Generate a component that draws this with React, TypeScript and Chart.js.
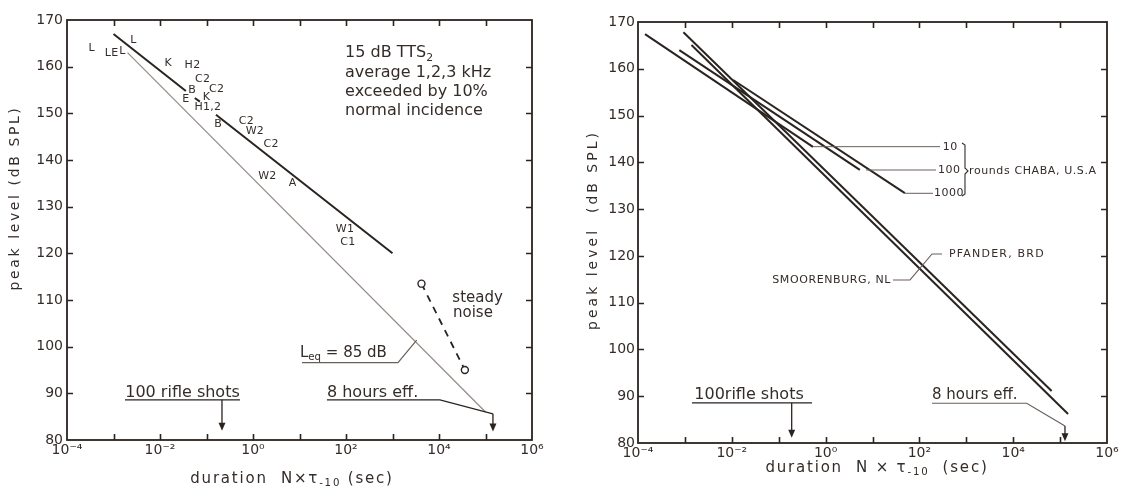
import { useEffect, useRef } from "react";
import { Chart, registerables } from "chart.js";
Chart.register(...registerables);

// ---------- shared axis data ----------
const xDecades = [1e-4, 1e-3, 1e-2, 1e-1, 1, 10, 100, 1e3, 1e4, 1e5, 1e6];
const yTickValues = [80, 90, 100, 110, 120, 130, 140, 150, 160, 170];

// ---------- left panel data ----------
const ttsX = [0.001, 0.036, 0.036, 0.056, 0.072, 0.072, 0.16, 1000];
const ttsY = [167, 154.8, null, 153.3, 152.5, null, 149.7, 120];
const leqX = [0.002, 100000];
const leqY = [163, 86];
const steadyX = [4200, 36000];
const steadyY = [113.5, 95];
const letterText = ["L", "LE", "L", "L", "K", "H2", "C2", "C2", "B", "E", "K", "H1,2", "B", "C2", "W2", "C2", "W2", "A", "W1", "C1"];
const letterX = [3.4e-4, 9.1e-4, 1.55e-3, 2.7e-3, 0.015, 0.05, 0.083, 0.166, 0.049, 0.036, 0.1, 0.107, 0.178, 0.72, 1.1, 2.45, 2.04, 7.1, 95, 110];
const letterY = [163.9, 162.9, 163.4, 165.7, 160.7, 160.4, 157.4, 155.2, 154.9, 153.0, 153.4, 151.4, 147.7, 148.4, 146.1, 143.4, 136.6, 135.1, 125.2, 122.5];

// ---------- right panel data ----------
const chaba10X = [1.41e-4, 0.537];
const chaba10Y = [167.4, 143.3];
const chaba100X = [7.6e-4, 5.37];
const chaba100Y = [164.0, 138.4];
const chaba1000X = [0.0107, 49];
const chaba1000Y = [157.6, 133.4];
const pfanderX = [9.3e-4, 66000];
const pfanderY = [167.8, 91.1];
const smoorX = [1.38e-3, 148000];
const smoorY = [165.1, 86.2];

// ---------- styles ----------
const INK = "#2a2320";
const TEXT = "#342c28";
const LIGHT = "#968b85";
const LEADER = "#6a605a";
const FONT = '"DejaVu Sans", "Liberation Sans", sans-serif';

const SUP: Record<string, string> = { "-": "⁻", "0": "⁰", "1": "¹", "2": "²", "3": "³", "4": "⁴", "5": "⁵", "6": "⁶" };
function xLabel(v: number) {
  const e = Math.round(Math.log10(v));
  if (e % 2 !== 0) return "";
  return "10" + String(e).split("").map((c) => SUP[c]).join("");
}

function pts(xs: number[], ys: (number | null)[]) {
  return xs.map((x, i) => ({ x, y: ys[i] }));
}

type Seg = { t: string; sub?: boolean };

function drawRich(ctx: CanvasRenderingContext2D, segs: Seg[], x: number, y: number, size: number, align: string, sp = 0, color = TEXT) {
  let w = 0;
  for (const s of segs) {
    ctx.font = `${s.sub ? size * 0.68 : size}px ${FONT}`;
    (ctx as any).letterSpacing = sp + "px";
    w += ctx.measureText(s.t).width;
  }
  let cx = align === "center" ? x - w / 2 : align === "right" ? x - w : x;
  ctx.textAlign = "left";
  ctx.textBaseline = "middle";
  ctx.fillStyle = color;
  for (const s of segs) {
    ctx.font = `${s.sub ? size * 0.68 : size}px ${FONT}`;
    (ctx as any).letterSpacing = sp + "px";
    ctx.fillText(s.t, cx, y + (s.sub ? size * 0.32 : 0));
    cx += ctx.measureText(s.t).width;
  }
  (ctx as any).letterSpacing = "0px";
}

function poly(ctx: CanvasRenderingContext2D, p: number[][], color: string, width: number) {
  ctx.save();
  ctx.strokeStyle = color;
  ctx.lineWidth = width;
  ctx.beginPath();
  p.forEach(([a, b], i) => (i ? ctx.lineTo(a, b) : ctx.moveTo(a, b)));
  ctx.stroke();
  ctx.restore();
}

function arrowDown(ctx: CanvasRenderingContext2D, x: number, y1: number, y2: number, color: string) {
  ctx.save();
  ctx.strokeStyle = color;
  ctx.fillStyle = color;
  ctx.lineWidth = 1.3;
  ctx.beginPath();
  ctx.moveTo(x, y1);
  ctx.lineTo(x, y2 - 6);
  ctx.stroke();
  ctx.beginPath();
  ctx.moveTo(x - 3.5, y2 - 8);
  ctx.lineTo(x + 3.5, y2 - 8);
  ctx.lineTo(x, y2);
  ctx.closePath();
  ctx.fill();
  ctx.restore();
}

function frameAndTicks(chart: any) {
  const { ctx, chartArea: a } = chart;
  const xs = chart.scales.x, ys = chart.scales.y;
  ctx.save();
  ctx.strokeStyle = INK;
  ctx.lineWidth = 1.6;
  ctx.beginPath();
  xDecades.slice(1, -1).forEach((v) => {
    const p = Math.round(xs.getPixelForValue(v)) + 0.5;
    ctx.moveTo(p, a.bottom); ctx.lineTo(p, a.bottom - 6);
    ctx.moveTo(p, a.top); ctx.lineTo(p, a.top + 6);
  });
  yTickValues.slice(1, -1).forEach((v) => {
    const p = Math.round(ys.getPixelForValue(v)) + 0.5;
    ctx.moveTo(a.left, p); ctx.lineTo(a.left + 6, p);
    ctx.moveTo(a.right, p); ctx.lineTo(a.right - 6, p);
  });
  ctx.stroke();
  ctx.lineWidth = 1.8;
  ctx.strokeRect(a.left, a.top, a.right - a.left, a.bottom - a.top);
  ctx.restore();
}

function yTitle(ctx: CanvasRenderingContext2D, text: string, cx: number, cy: number, sp: number) {
  ctx.save();
  ctx.translate(cx, cy);
  ctx.rotate(-Math.PI / 2);
  drawRich(ctx, [{ t: text }], 0, 0, 14, "center", sp);
  ctx.restore();
}

const whiteBg = {
  id: "whiteBg",
  beforeDraw(chart: any) {
    const ctx = chart.ctx;
    ctx.save();
    ctx.fillStyle = "#ffffff";
    ctx.fillRect(0, 0, chart.width, chart.height);
    ctx.restore();
  },
};

const leftDecor = {
  id: "leftDecor",
  afterDraw(chart: any) {
    const ctx = chart.ctx as CanvasRenderingContext2D;
    const xs = chart.scales.x, ys = chart.scales.y;
    const X = (lx: number) => xs.getPixelForValue(Math.pow(10, lx));
    const Y = (db: number) => ys.getPixelForValue(db);
    frameAndTicks(chart);

    // study letters
    letterText.forEach((t, i) => {
      drawRich(ctx, [{ t }], xs.getPixelForValue(letterX[i]), ys.getPixelForValue(letterY[i]), 11, "center", 0.3);
    });

    // criterion text block
    drawRich(ctx, [{ t: "15 dB TTS" }, { t: "2", sub: true }], X(1.98), Y(162.9), 16, "left");
    drawRich(ctx, [{ t: "average 1,2,3 kHz" }], X(1.98), Y(158.6), 16, "left");
    drawRich(ctx, [{ t: "exceeded by 10%" }], X(1.98), Y(154.5), 16, "left");
    drawRich(ctx, [{ t: "normal incidence" }], X(1.98), Y(150.6), 16, "left");

    // steady noise
    drawRich(ctx, [{ t: "steady" }], X(4.83), Y(110.4), 15, "center");
    drawRich(ctx, [{ t: "noise" }], X(4.73), Y(107.2), 15, "center");

    // Leq label
    drawRich(ctx, [{ t: "L" }, { t: "eq", sub: true }, { t: " = 85 dB" }], X(1.01), Y(98.65), 15, "left");
    poly(ctx, [[X(1.054), Y(96.57)], [X(3.118), Y(96.57)], [X(3.52), Y(101.4)]], LEADER, 1.2);

    // 100 rifle shots
    drawRich(ctx, [{ t: "100 rifle shots" }], X(-1.516), Y(90.1), 16, "center");
    poly(ctx, [[X(-2.753), Y(88.6)], [X(-0.28), Y(88.6)]], INK, 1.3);
    arrowDown(ctx, X(-0.667), Y(88.6), Y(82.0), INK);

    // 8 hours eff.
    drawRich(ctx, [{ t: "8 hours eff." }], X(1.59), Y(90.1), 16, "left");
    poly(ctx, [[X(1.59), Y(88.6)], [X(4.02), Y(88.6)], [X(5.16), Y(85.6)]], INK, 1.2);
    arrowDown(ctx, X(5.16), Y(85.6), Y(81.8), INK);

    // axis titles
    yTitle(ctx, "peak level (dB SPL)", 15, 198, 2.6);
    drawRich(ctx, [{ t: "duration  N×τ" }, { t: "-10", sub: true }, { t: " (sec)" }], 292, 479, 15, "center", 1.8);
  },
};

const rightDecor = {
  id: "rightDecor",
  afterDraw(chart: any) {
    const ctx = chart.ctx as CanvasRenderingContext2D;
    const xs = chart.scales.x, ys = chart.scales.y;
    const X = (lx: number) => xs.getPixelForValue(Math.pow(10, lx));
    const Y = (db: number) => ys.getPixelForValue(db);
    frameAndTicks(chart);

    // CHABA leaders
    poly(ctx, [[X(-0.269), Y(143.35)], [X(2.44), Y(143.35)]], LEADER, 1);
    poly(ctx, [[X(0.861), Y(138.36)], [X(2.354), Y(138.36)]], LEADER, 1);
    poly(ctx, [[X(1.693), Y(133.38)], [X(2.29), Y(133.38)]], LEADER, 1);
    drawRich(ctx, [{ t: "10" }], X(2.5), Y(143.35), 11, "left", 0.5);
    drawRich(ctx, [{ t: "100" }], X(2.397), Y(138.36), 11, "left", 0.5);
    drawRich(ctx, [{ t: "1000" }], X(2.31), Y(133.38), 11, "left", 0.5);
    poly(ctx, [
      [X(2.908), Y(144.13)], [X(2.972), Y(143.7)], [X(2.972), Y(138.8)], [X(3.036), Y(138.15)],
      [X(2.972), Y(137.5)], [X(2.972), Y(133.23)], [X(2.908), Y(132.8)],
    ], TEXT, 1.1);
    drawRich(ctx, [{ t: "rounds CHABA, U.S.A" }], X(3.058), Y(138.15), 11, "left", 0.6);

    // Pfander / Smoorenburg
    poly(ctx, [[X(1.437), Y(114.85)], [X(1.8), Y(114.85)], [X(2.269), Y(120.41)], [X(2.482), Y(120.41)]], LEADER, 1.1);
    drawRich(ctx, [{ t: "SMOORENBURG, NL" }], X(1.394), Y(114.85), 11, "right", 0.6);
    drawRich(ctx, [{ t: "PFANDER, BRD" }], X(2.631), Y(120.41), 11, "left", 1.2);

    // 100 rifle shots
    drawRich(ctx, [{ t: "100rifle shots" }], X(-1.633), Y(90.26), 16, "center");
    poly(ctx, [[X(-2.849), Y(88.56)], [X(-0.29), Y(88.56)]], INK, 1.3);
    arrowDown(ctx, X(-0.723), Y(88.56), Y(81.1), INK);

    // 8 hours eff.
    drawRich(ctx, [{ t: "8 hours eff." }], X(2.269), Y(90.26), 15, "left");
    poly(ctx, [[X(2.269), Y(88.5)], [X(4.288), Y(88.5)], [X(5.104), Y(83.64)]], LEADER, 1.2);
    arrowDown(ctx, X(5.104), Y(83.64), Y(80.4), INK);

    yTitle(ctx, "peak level  (dB SPL)", 33, 230, 3);
    drawRich(ctx, [{ t: "duration  N × τ" }, { t: "-10", sub: true }, { t: "  (sec)" }], 317, 468, 15, "center", 1.8);
  },
};

function scales(yWidth: number, xHeight: number, yPad: number) {
  return {
    x: {
      type: "logarithmic",
      min: 1e-4,
      max: 1e6,
      position: "bottom",
      grid: { display: false, drawTicks: false },
      border: { display: false },
      afterBuildTicks: (s: any) => { s.ticks = xDecades.map((v) => ({ value: v })); },
      afterFit: (s: any) => { s.height = xHeight; },
      ticks: {
        autoSkip: false, maxRotation: 0, minRotation: 0, padding: 2,
        font: { family: FONT, size: 14 }, color: TEXT,
        callback: (v: any) => xLabel(Number(v)),
      },
    },
    y: {
      type: "linear",
      min: 80,
      max: 170,
      position: "left",
      grid: { display: false, drawTicks: false },
      border: { display: false },
      afterBuildTicks: (s: any) => { s.ticks = yTickValues.map((v) => ({ value: v })); },
      afterFit: (s: any) => { s.width = yWidth; },
      ticks: { padding: yPad, font: { family: FONT, size: 14 }, color: TEXT },
    },
  };
}

function baseOptions(pad: any, yWidth: number, xHeight: number, yPad: number) {
  return {
    responsive: false,
    animation: false,
    devicePixelRatio: 1,
    layout: { padding: pad },
    plugins: { legend: { display: false }, tooltip: { enabled: false } },
    scales: scales(yWidth, xHeight, yPad),
  };
}

function line(data: any, color: string, width: number, extra: any = {}) {
  return { data, showLine: true, borderColor: color, borderWidth: width, pointRadius: 0, borderCapStyle: "butt", spanGaps: false, ...extra };
}

export default function App() {
  const lRef = useRef<HTMLCanvasElement>(null);
  const rRef = useRef<HTMLCanvasElement>(null);
  useEffect(() => {
    const left = new Chart(lRef.current as HTMLCanvasElement, {
      type: "scatter",
      data: {
        datasets: [
          line(pts(ttsX, ttsY), INK, 2),
          line(pts(leqX, leqY), LIGHT, 1.2),
          line(pts(steadyX, steadyY), INK, 1.8, {
            borderDash: [7, 6], pointRadius: 3.5, pointBorderWidth: 1.4,
            pointBackgroundColor: "#ffffff", pointBorderColor: INK,
          }),
        ],
      },
      options: baseOptions({ left: 0, right: 28, top: 20, bottom: 0 }, 67, 49, 4) as any,
      plugins: [whiteBg, leftDecor],
    } as any);
    const right = new Chart(rRef.current as HTMLCanvasElement, {
      type: "scatter",
      data: {
        datasets: [
          line(pts(chaba10X, chaba10Y), INK, 2),
          line(pts(chaba100X, chaba100Y), INK, 2),
          line(pts(chaba1000X, chaba1000Y), INK, 2),
          line(pts(pfanderX, pfanderY), INK, 2),
          line(pts(smoorX, smoorY), INK, 2),
        ],
      },
      options: baseOptions({ left: 0, right: 18, top: 22, bottom: 0 }, 78, 46, 3) as any,
      plugins: [whiteBg, rightDecor],
    } as any);
    return () => { left.destroy(); right.destroy(); };
  }, []);
  return (
    <div style={{ position: "absolute", left: 0, top: 0, width: 1125, height: 489, background: "#fff", overflow: "hidden" }}>
      <canvas ref={lRef} width={560} height={489} style={{ position: "absolute", left: 0, top: 0, width: 560, height: 489 }} />
      <canvas ref={rRef} width={565} height={489} style={{ position: "absolute", left: 560, top: 0, width: 565, height: 489 }} />
    </div>
  );
}
